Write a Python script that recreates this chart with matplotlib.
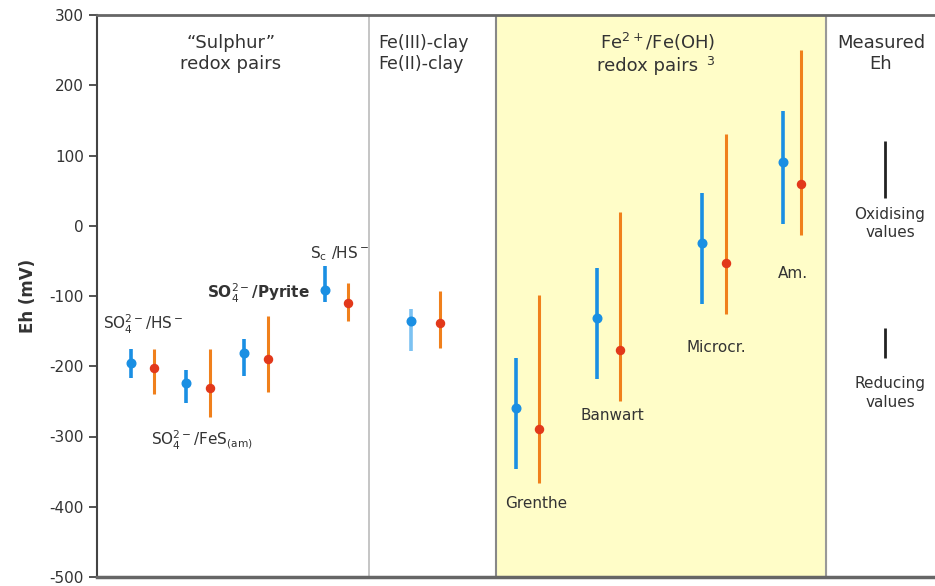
import matplotlib.pyplot as plt

plt.rcParams["axes.unicode_minus"] = False

# Eh ranges (mV): centre, upper and lower limit of each redox pair
pairs = ["SO4/HS", "SO4/FeS", "SO4/Pyrite", "Sc/HS", "Fe-clay",
         "Grenthe", "Banwart", "Microcr", "Am"]
blue_mid = [-195, -224, -181, -92, -135, -260, -132, -24, 91]
blue_hi = [-175, -205, -161, -57, -118, -188, -60, 46, 163]
blue_lo = [-217, -253, -214, -109, -179, -346, -218, -112, 3]
orange_mid = [-203, -231, -190, -110, -139, -290, -177, -53, 60]
orange_hi = [-176, -176, -128, -82, -93, -98, 20, 131, 250]
orange_lo = [-240, -272, -236, -136, -174, -366, -249, -126, -13]

# horizontal positions (pixel-like units along the x axis)
blue_x = [131, 186, 244, 325, 411, 516, 597, 702, 783]
orange_x = [154, 210, 268, 348, 440, 539, 620, 726, 801]

BLUE = "#1a8fe3"
LIGHT_BLUE = "#7cc2f2"
ORANGE = "#f0801c"
RED = "#e2381a"
TXT = "#333333"

fig = plt.figure(figsize=(9.35, 5.86), dpi=100)
ax = fig.add_axes([97 / 935, 9 / 586, 838 / 935, 562 / 586])
ax.set_xlim(97, 935)
ax.set_ylim(-500, 300)

# yellow band for the Fe2+/Fe(OH)3 pairs and separators
ax.axvspan(496, 826, color="#fffdc8", zorder=0)
ax.axvline(369, color="#bbbbbb", lw=1.2, zorder=1)
ax.axvline(496, color="#888888", lw=1.5, zorder=1)
ax.axvline(826, color="#999999", lw=1.5, zorder=1)

for i, name in enumerate(pairs):
    line_col = LIGHT_BLUE if name == "Fe-clay" else BLUE
    ax.vlines(blue_x[i], blue_lo[i], blue_hi[i], color=line_col, lw=2.6, zorder=2)
    ax.plot(blue_x[i], blue_mid[i], "o", color=BLUE, ms=6.2, zorder=3)
    ax.vlines(orange_x[i], orange_lo[i], orange_hi[i], color=ORANGE, lw=2.2, zorder=2)
    ax.plot(orange_x[i], orange_mid[i], "o", color=RED, ms=5.8, zorder=3)

# spines and ticks
for side in ["right", "bottom"]:
    ax.spines[side].set_visible(False)
ax.spines["left"].set_color("#444444")
ax.spines["left"].set_linewidth(1.5)
ax.spines["top"].set_color("#666666")
ax.spines["top"].set_linewidth(2)
ax.axhline(-500, color="#666666", lw=2.5, clip_on=False, zorder=4)
ax.set_xticks([])
ax.set_yticks(range(-500, 301, 100))
ax.tick_params(axis="y", length=6, width=1.3, color="#444444", labelsize=11,
               labelcolor=TXT)
ax.set_ylabel("Eh (mV)", fontsize=12, fontweight="bold", color=TXT, labelpad=9)

# group headings
hs = dict(fontsize=13, color=TXT, ha="center", va="center", linespacing=1.25)
ax.text(231, 245, "\u201cSulphur\u201d\nredox pairs", **hs)
ax.text(378, 245, "Fe(III)-clay\nFe(II)-clay", fontsize=12.5, color=TXT,
        ha="left", va="center", linespacing=1.25)
ax.text(600, 262, r"Fe$^{2+}$/Fe(OH)", fontsize=13, color=TXT, ha="left", va="center")
ax.text(597, 227, "redox pairs", fontsize=13, color=TXT, ha="left", va="center")
ax.text(706, 234, "3", fontsize=9, color=TXT, ha="left", va="center")
ax.text(881, 245, "Measured\nEh", **hs)

# measured Eh markers
ax.vlines(885, 39, 121, color="#222222", lw=2)
ax.vlines(885, -188, -146, color="#222222", lw=2)
ls = dict(fontsize=11, color=TXT, ha="center", va="center", linespacing=1.3)
ax.text(890, 3, "Oxidising\nvalues", **ls)
ax.text(890, -238, "Reducing\nvalues", **ls)

# pair labels
ax.text(143, -140, r"SO$_4^{2-}$/HS$^-$", **ls)
ax.text(202, -305, r"SO$_4^{2-}$/FeS$_{\rm (am)}$", **ls)
ax.text(258, -97, r"SO$_4^{2-}$/Pyrite", fontsize=11, color=TXT, ha="center",
        va="center", fontweight="bold")
ax.text(340, -40, r"S$_{\rm c}$ /HS$^-$", **ls)
ax.text(536, -395, "Grenthe", **ls)
ax.text(612, -270, "Banwart", **ls)
ax.text(716, -173, "Microcr.", **ls)
ax.text(793, -68, "Am.", **ls)

fig.savefig("out.png", dpi=100)
